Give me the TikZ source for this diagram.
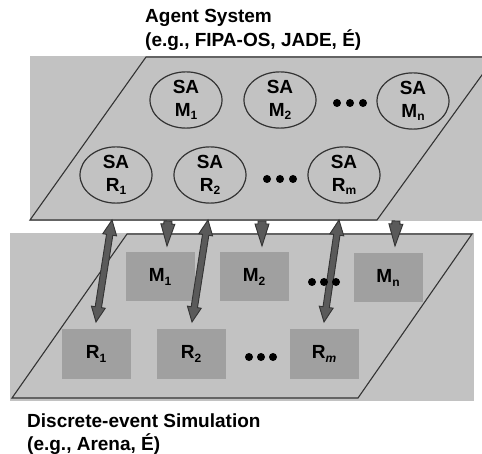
\documentclass[tikz,border=0pt]{standalone}
\usepackage{fontspec}
\setmainfont{Liberation Sans}
\usetikzlibrary{calc,shapes.geometric}
\definecolor{panelgray}{HTML}{C2C2C2}
\definecolor{boxgray}{HTML}{A0A0A0}
\definecolor{edgegray}{HTML}{333333}
\definecolor{arrowfill}{HTML}{5A5A5A}
\newcommand\sub[1]{\raisebox{-0.35ex}{\fontsize{12}{12}\selectfont #1}}
\newcommand\dblarr[2]{%
  \draw[blk] (#1) -- ($(#1)!15pt!(#2)!7pt!90:(#2)$) -- ($(#1)!15pt!(#2)!3.2pt!90:(#2)$)
  -- ($(#2)!15pt!(#1)!3.2pt!-90:(#1)$) -- ($(#2)!15pt!(#1)!7pt!-90:(#1)$) -- (#2)
  -- ($(#2)!15pt!(#1)!7pt!90:(#1)$) -- ($(#2)!15pt!(#1)!3.2pt!90:(#1)$)
  -- ($(#1)!15pt!(#2)!3.2pt!-90:(#2)$) -- ($(#1)!15pt!(#2)!7pt!-90:(#2)$) -- cycle;}
\newcommand\sglarr[2]{%
  \draw[blk] ($(#1)!4pt!90:(#2)$) -- ($(#1)!3pt!(#2)!4pt!90:(#2)$) -- ($(#1)!3pt!(#2)!7pt!90:(#2)$)
  -- (#2) -- ($(#1)!3pt!(#2)!7pt!-90:(#2)$) -- ($(#1)!3pt!(#2)!4pt!-90:(#2)$)
  -- ($(#1)!4pt!-90:(#2)$) -- cycle;}
\begin{document}
\begin{tikzpicture}[x=1pt,y=-1pt,
  sa/.style={ellipse, draw=edgegray, line width=1.2pt, fill=panelgray, minimum width=72pt,
    minimum height=50pt, inner sep=0pt, align=center, font=\bfseries\fontsize{19}{23}\selectfont},
  simbox/.style={rectangle, fill=boxgray, minimum width=69pt, minimum height=49pt, inner sep=0pt,
    font=\bfseries\fontsize{19}{23}\selectfont},
  panel/.style={draw=edgegray, line width=1.1pt},
  bigdot/.style={circle, fill=black, inner sep=0pt, minimum size=8pt},
  blk/.style={fill=arrowfill, draw=edgegray, line width=0.9pt, line join=miter},
  titletext/.style={anchor=base west, inner sep=0pt, font=\bfseries\fontsize{19}{24}\selectfont}]
\useasboundingbox (0,0) rectangle (482,454);
\fill[white] (0,0) rectangle (482,454);
\begin{scope}
\clip (0,0) rectangle (482,454);
% top panel
\fill[panelgray] (30,56) rectangle (482,221);
\draw[panel] (30,220) -- (146,57) -- (495,57) -- (377,220) -- cycle;
% bottom panel
\fill[panelgray] (10,233) rectangle (474,401);
\draw[panel] (127,234) -- (472,234) -- (358,398) -- (12,398) -- cycle;
\end{scope}
% titles
\node[titletext] (t1) at (145,23) {Agent System};
\node[titletext] (t2) at (145,47) {(e.g., FIPA-OS, JADE, É)};
\node[titletext] (b1) at (27,427) {Discrete-event Simulation};
\node[titletext] (b2) at (27,450) {(e.g., Arena, É)};
% agent ellipses
\node[sa] (SAM1) at (186,100) {SA\\M\sub{1}};
\node[sa] (SAM2) at (280,100) {SA\\M\sub{2}};
\node[sa] (SAMn) at (413,101) {SA\\M\sub{n}};
\node[sa] (SAR1) at (116,175) {SA\\R\sub{1}};
\node[sa] (SAR2) at (210,175) {SA\\R\sub{2}};
\node[sa] (SARm) at (344,175) {SA\\R\sub{m}};
\node[bigdot] (td1) at (337,103) {};
\node[bigdot] (td2) at (350,103) {};
\node[bigdot] (td3) at (363,103) {};
\node[bigdot] (td4) at (267,179) {};
\node[bigdot] (td5) at (280,179) {};
\node[bigdot] (td6) at (293,179) {};
% simulation boxes
\node[simbox] (M1) at (160,277) {M\sub{1}};
\node[simbox] (M2) at (254,277) {M\sub{2}};
\node[simbox] (Mn) at (388,278) {M\sub{n}};
\node[simbox] (R1) at (96,354) {R\sub{1}};
\node[simbox] (R2) at (191,354) {R\sub{2}};
\node[simbox] (Rm) at (324,354) {R\sub{\textit{m}}};
% connector ends
\coordinate (r1t) at (112,220); \coordinate (r1b) at (96,322);
\coordinate (r2t) at (208,220); \coordinate (r2b) at (192,322);
\coordinate (rmt) at (339,220); \coordinate (rmb) at (324,322);
\coordinate (m1t) at (168,221); \coordinate (m1b) at (167,246);
\coordinate (m2t) at (262,221); \coordinate (m2b) at (262,246);
\coordinate (mnt) at (396,221); \coordinate (mnb) at (395,246);
\sglarr{m1t}{m1b}
\sglarr{m2t}{m2b}
\sglarr{mnt}{mnb}
\dblarr{r1t}{r1b}
\dblarr{r2t}{r2b}
\dblarr{rmt}{rmb}
\node[bigdot] (bd1) at (312,282) {};
\node[bigdot] (bd2) at (324,282) {};
\node[bigdot] (bd3) at (336,282) {};
\node[bigdot] (bd4) at (249,357) {};
\node[bigdot] (bd5) at (261,357) {};
\node[bigdot] (bd6) at (273,357) {};
\end{tikzpicture}
\end{document}
